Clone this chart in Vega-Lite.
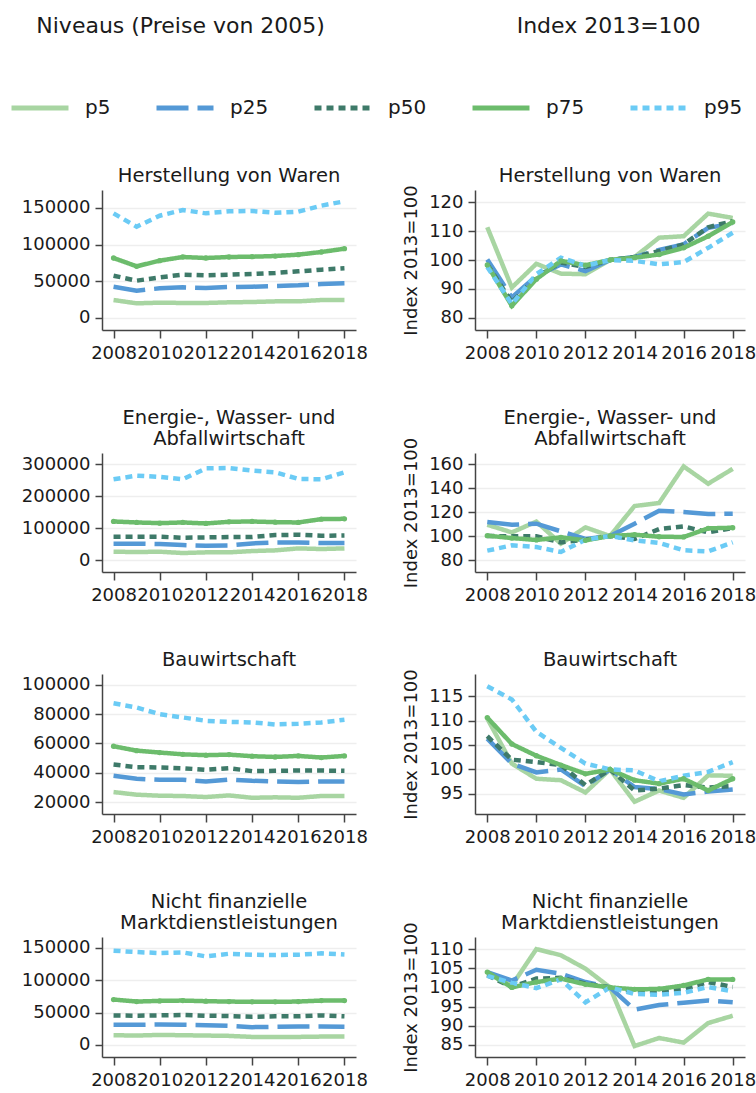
{
  "$schema": "https://vega.github.io/schema/vega-lite/v6.json",
  "padding": {"left": 9, "top": 14, "right": 0, "bottom": 0},
  "datasets": {
    "d": [
      {"s":"H","k":"l","year":2008,"p5":24500,"p25":42700,"p50":57700,"p75":81800,"p95":142700},
      {"s":"H","k":"l","year":2009,"p5":20000,"p25":37300,"p50":50900,"p75":70500,"p95":124500},
      {"s":"H","k":"l","year":2010,"p5":20900,"p25":40500,"p50":55400,"p75":78200,"p95":139500},
      {"s":"H","k":"l","year":2011,"p5":20500,"p25":41800,"p50":59100,"p75":83200,"p95":147300},
      {"s":"H","k":"l","year":2012,"p5":20500,"p25":40900,"p50":58200,"p75":81800,"p95":142700},
      {"s":"H","k":"l","year":2013,"p5":21400,"p25":42300,"p50":59100,"p75":83200,"p95":145400},
      {"s":"H","k":"l","year":2014,"p5":21800,"p25":42700,"p50":60000,"p75":83600,"p95":145900},
      {"s":"H","k":"l","year":2015,"p5":22700,"p25":43600,"p50":61400,"p75":84500,"p95":143600},
      {"s":"H","k":"l","year":2016,"p5":22700,"p25":44500,"p50":63600,"p75":86400,"p95":145000},
      {"s":"H","k":"l","year":2017,"p5":24500,"p25":46400,"p50":65900,"p75":90000,"p95":153200},
      {"s":"H","k":"l","year":2018,"p5":24500,"p25":47300,"p50":67700,"p75":94500,"p95":159100},
      {"s":"H","k":"i","year":2008,"p5":111.3,"p25":100.2,"p50":98.5,"p75":98.3,"p95":97.6},
      {"s":"H","k":"i","year":2009,"p5":90.5,"p25":87.1,"p50":85.4,"p75":84.2,"p95":84.8},
      {"s":"H","k":"i","year":2010,"p5":98.7,"p25":94.5,"p50":94.2,"p75":93.4,"p95":95.1},
      {"s":"H","k":"i","year":2011,"p5":95.3,"p25":98.5,"p50":99.1,"p75":99.7,"p95":100.8},
      {"s":"H","k":"i","year":2012,"p5":95.1,"p25":96.2,"p50":97.6,"p75":98.2,"p95":98.0},
      {"s":"H","k":"i","year":2013,"p5":100,"p25":100,"p50":100,"p75":100,"p95":100},
      {"s":"H","k":"i","year":2014,"p5":101.0,"p25":101.0,"p50":101.0,"p75":100.8,"p95":99.7},
      {"s":"H","k":"i","year":2015,"p5":107.7,"p25":103.5,"p50":103.1,"p75":101.9,"p95":98.5},
      {"s":"H","k":"i","year":2016,"p5":108.2,"p25":105.4,"p50":105.4,"p75":104.2,"p95":99.3},
      {"s":"H","k":"i","year":2017,"p5":116.0,"p25":111.1,"p50":111.3,"p75":108.2,"p95":104.2},
      {"s":"H","k":"i","year":2018,"p5":114.5,"p25":112.5,"p50":113.4,"p75":113.1,"p95":109.4},
      {"s":"E","k":"l","year":2008,"p5":25900,"p25":50900,"p50":72700,"p75":120400,"p95":252200},
      {"s":"E","k":"l","year":2009,"p5":24900,"p25":50900,"p50":72700,"p75":117300,"p95":263700},
      {"s":"E","k":"l","year":2010,"p5":25900,"p25":49800,"p50":72700,"p75":115200,"p95":259500},
      {"s":"E","k":"l","year":2011,"p5":21800,"p25":46700,"p50":69500,"p75":117300,"p95":252200},
      {"s":"E","k":"l","year":2012,"p5":23900,"p25":44600,"p50":70600,"p75":114200,"p95":286500},
      {"s":"E","k":"l","year":2013,"p5":23900,"p25":45700,"p50":71600,"p75":119400,"p95":287500},
      {"s":"E","k":"l","year":2014,"p5":28000,"p25":51900,"p50":71600,"p75":120400,"p95":279200},
      {"s":"E","k":"l","year":2015,"p5":30100,"p25":55000,"p50":77900,"p75":118300,"p95":274000},
      {"s":"E","k":"l","year":2016,"p5":36300,"p25":55000,"p50":78900,"p75":117300,"p95":253300},
      {"s":"E","k":"l","year":2017,"p5":34300,"p25":52900,"p50":75800,"p75":127700,"p95":252200},
      {"s":"E","k":"l","year":2018,"p5":36300,"p25":52900,"p50":76800,"p75":128700,"p95":274000},
      {"s":"E","k":"i","year":2008,"p5":109.4,"p25":111.7,"p50":100.0,"p75":100.3,"p95":87.8},
      {"s":"E","k":"i","year":2009,"p5":103.0,"p25":109.4,"p50":99.7,"p75":98.3,"p95":92.2},
      {"s":"E","k":"i","year":2010,"p5":112.0,"p25":110.3,"p50":99.7,"p75":96.7,"p95":90.8},
      {"s":"E","k":"i","year":2011,"p5":93.6,"p25":103.9,"p50":94.7,"p75":98.9,"p95":86.7},
      {"s":"E","k":"i","year":2012,"p5":107.2,"p25":97.5,"p50":96.9,"p75":96.4,"p95":96.9},
      {"s":"E","k":"i","year":2013,"p5":100,"p25":100,"p50":100,"p75":100,"p95":100},
      {"s":"E","k":"i","year":2014,"p5":125.0,"p25":110.3,"p50":97.5,"p75":101.1,"p95":96.4},
      {"s":"E","k":"i","year":2015,"p5":127.5,"p25":121.1,"p50":105.8,"p75":99.4,"p95":94.2},
      {"s":"E","k":"i","year":2016,"p5":158.0,"p25":120.0,"p50":108.0,"p75":99.2,"p95":88.1},
      {"s":"E","k":"i","year":2017,"p5":143.6,"p25":118.3,"p50":103.0,"p75":106.4,"p95":87.2},
      {"s":"E","k":"i","year":2018,"p5":156.0,"p25":118.6,"p50":106.7,"p75":106.9,"p95":94.7},
      {"s":"B","k":"l","year":2008,"p5":26800,"p25":37900,"p50":45600,"p75":58100,"p95":87500},
      {"s":"B","k":"l","year":2009,"p5":25000,"p25":35900,"p50":43800,"p75":55100,"p95":84600},
      {"s":"B","k":"l","year":2010,"p5":24300,"p25":35200,"p50":43600,"p75":53800,"p95":80000},
      {"s":"B","k":"l","year":2011,"p5":24100,"p25":35200,"p50":43100,"p75":52600,"p95":77800},
      {"s":"B","k":"l","year":2012,"p5":23400,"p25":34000,"p50":42000,"p75":52000,"p95":75500},
      {"s":"B","k":"l","year":2013,"p5":24500,"p25":35400,"p50":43100,"p75":52400,"p95":74800},
      {"s":"B","k":"l","year":2014,"p5":22900,"p25":34500,"p50":41100,"p75":51300,"p95":74400},
      {"s":"B","k":"l","year":2015,"p5":23200,"p25":34000,"p50":41300,"p75":50800,"p95":73000},
      {"s":"B","k":"l","year":2016,"p5":22900,"p25":33600,"p50":41500,"p75":51500,"p95":73500},
      {"s":"B","k":"l","year":2017,"p5":24100,"p25":34000,"p50":41500,"p75":50400,"p95":74400},
      {"s":"B","k":"l","year":2018,"p5":24100,"p25":34000,"p50":41300,"p75":51500,"p95":76200},
      {"s":"B","k":"i","year":2008,"p5":110.4,"p25":106.3,"p50":106.8,"p75":110.6,"p95":117.0},
      {"s":"B","k":"i","year":2009,"p5":101.2,"p25":101.2,"p50":102.0,"p75":105.2,"p95":114.3},
      {"s":"B","k":"i","year":2010,"p5":98.1,"p25":99.4,"p50":101.5,"p75":102.8,"p95":107.7},
      {"s":"B","k":"i","year":2011,"p5":97.8,"p25":100.0,"p50":100.9,"p75":100.9,"p95":104.4},
      {"s":"B","k":"i","year":2012,"p5":95.3,"p25":96.6,"p50":96.8,"p75":99.1,"p95":101.2},
      {"s":"B","k":"i","year":2013,"p5":100,"p25":100,"p50":100,"p75":100,"p95":100},
      {"s":"B","k":"i","year":2014,"p5":93.4,"p25":96.4,"p50":95.7,"p75":97.8,"p95":99.8},
      {"s":"B","k":"i","year":2015,"p5":95.7,"p25":96.0,"p50":96.1,"p75":97.1,"p95":97.6},
      {"s":"B","k":"i","year":2016,"p5":94.2,"p25":94.9,"p50":96.8,"p75":98.1,"p95":98.7},
      {"s":"B","k":"i","year":2017,"p5":98.8,"p25":95.5,"p50":96.3,"p75":95.7,"p95":99.5},
      {"s":"B","k":"i","year":2018,"p5":98.7,"p25":95.9,"p50":96.6,"p75":98.1,"p95":101.5},
      {"s":"N","k":"l","year":2008,"p5":15100,"p25":31200,"p50":45800,"p75":70300,"p95":145800},
      {"s":"N","k":"l","year":2009,"p5":14600,"p25":31200,"p50":45300,"p75":67200,"p95":143700},
      {"s":"N","k":"l","year":2010,"p5":15600,"p25":31800,"p50":45800,"p75":68200,"p95":142200},
      {"s":"N","k":"l","year":2011,"p5":15100,"p25":31200,"p50":46400,"p75":68700,"p95":143200},
      {"s":"N","k":"l","year":2012,"p5":14600,"p25":30700,"p50":45300,"p75":67700,"p95":137000},
      {"s":"N","k":"l","year":2013,"p5":14100,"p25":29700,"p50":44800,"p75":67200,"p95":141100},
      {"s":"N","k":"l","year":2014,"p5":12500,"p25":27600,"p50":43700,"p75":66700,"p95":139600},
      {"s":"N","k":"l","year":2015,"p5":12500,"p25":28100,"p50":44300,"p75":66700,"p95":139100},
      {"s":"N","k":"l","year":2016,"p5":12500,"p25":28600,"p50":44300,"p75":67200,"p95":139600},
      {"s":"N","k":"l","year":2017,"p5":13000,"p25":28600,"p50":45800,"p75":68700,"p95":141700},
      {"s":"N","k":"l","year":2018,"p5":13000,"p25":28100,"p50":44300,"p75":68700,"p95":140100},
      {"s":"N","k":"i","year":2008,"p5":103.6,"p25":104.0,"p50":103.2,"p75":104.0,"p95":103.0},
      {"s":"N","k":"i","year":2009,"p5":100.5,"p25":101.8,"p50":100.1,"p75":100.0,"p95":101.2},
      {"s":"N","k":"i","year":2010,"p5":110.0,"p25":104.6,"p50":102.3,"p75":101.4,"p95":99.8},
      {"s":"N","k":"i","year":2011,"p5":108.4,"p25":103.6,"p50":102.5,"p75":102.3,"p95":102.1},
      {"s":"N","k":"i","year":2012,"p5":104.9,"p25":101.4,"p50":101.0,"p75":100.8,"p95":96.1},
      {"s":"N","k":"i","year":2013,"p5":100,"p25":100,"p50":100,"p75":100,"p95":100},
      {"s":"N","k":"i","year":2014,"p5":84.7,"p25":94.2,"p50":99.0,"p75":99.5,"p95":98.3},
      {"s":"N","k":"i","year":2015,"p5":86.8,"p25":95.4,"p50":99.0,"p75":99.6,"p95":98.1},
      {"s":"N","k":"i","year":2016,"p5":85.6,"p25":96.0,"p50":99.6,"p75":100.5,"p95":98.6},
      {"s":"N","k":"i","year":2017,"p5":90.7,"p25":96.6,"p50":101.4,"p75":102.1,"p95":100.1},
      {"s":"N","k":"i","year":2018,"p5":92.6,"p25":96.1,"p50":100.1,"p75":102.1,"p95":99.0}
    ]
  },
  "spacing": 45,
  "resolve": {"scale": {"color": "shared", "strokeDash": "shared"}},
  "vconcat": [
    {
      "spacing": 34,
      "hconcat": [
        {
          "title": {"text": "Niveaus (Preise von 2005)", "fontSize": 22, "offset": 128, "anchor": "start", "dx": 15},
          "vconcat": [
            {
              "title": {"text": "Herstellung von Waren"},
              "width": 254, "height": 140,
              "data": {"name": "d"},
              "transform": [{"filter": "datum.s === 'H' && datum.k === 'l'"}, {"fold": ["p5","p25","p50","p75","p95"], "as": ["series","value"]}],
              "encoding": {
                "x": {"field": "year", "type": "quantitative", "scale": {"domain": [2007.5, 2018.5], "nice": false, "zero": false}, "axis": {"values": [2008,2010,2012,2014,2016,2018], "format": "d", "title": null}},
                "y": {"field": "value", "type": "quantitative", "scale": {"domain": [-16364, 174545], "nice": false, "zero": false}, "axis": {"values": [0,50000,100000,150000], "title": null}},
                "color": {"field": "series", "type": "nominal", "scale": {"domain": ["p5","p25","p50","p75","p95"], "range": ["#a8d5a2","#5499d6","#3e7a69","#6cbc6c","#6bcbf5"]}, "legend": {"title": null, "orient": "none", "legendX": -93, "legendY": -113, "direction": "horizontal"}}
              },
              "layer": [
                {"mark": {"type": "line", "strokeWidth": 4.5}, "encoding": {"strokeDash": {"field": "series", "type": "nominal", "scale": {"domain": ["p5","p25","p50","p75","p95"], "range": [[1,0],[32,9],[7,5],[1,0],[7,5]]}, "legend": {"title": null, "orient": "none", "legendX": -93, "legendY": -113, "direction": "horizontal"}}}},
                {"transform": [{"filter": "datum.series === 'p75'"}], "mark": {"type": "point", "filled": true, "size": 28, "opacity": 1}}
              ]
            }
          ]
        },
        {
          "title": {"text": "Index 2013=100", "fontSize": 22, "offset": 128, "anchor": "start", "dx": 114},
          "vconcat": [
            {
              "title": {"text": "Herstellung von Waren", "offset": -1.5},
              "width": 270, "height": 140,
              "data": {"name": "d"},
              "transform": [{"filter": "datum.s === 'H' && datum.k === 'i'"}, {"fold": ["p5","p25","p50","p75","p95"], "as": ["series","value"]}],
              "encoding": {
                "x": {"field": "year", "type": "quantitative", "scale": {"domain": [2007.5, 2018.5], "nice": false, "zero": false}, "axis": {"values": [2008,2010,2012,2014,2016,2018], "format": "d", "title": null}},
                "y": {"field": "value", "type": "quantitative", "scale": {"domain": [75.86, 124.14], "nice": false, "zero": false}, "axis": {"values": [80,90,100,110,120], "title": "Index 2013=100"}},
                "color": {"field": "series", "type": "nominal", "scale": {"domain": ["p5","p25","p50","p75","p95"], "range": ["#a8d5a2","#5499d6","#3e7a69","#6cbc6c","#6bcbf5"]}, "legend": {"title": null, "orient": "none", "legendX": -93, "legendY": -113, "direction": "horizontal"}}
              },
              "layer": [
                {"mark": {"type": "line", "strokeWidth": 4.5}, "encoding": {"strokeDash": {"field": "series", "type": "nominal", "scale": {"domain": ["p5","p25","p50","p75","p95"], "range": [[1,0],[32,9],[7,5],[1,0],[7,5]]}, "legend": {"title": null, "orient": "none", "legendX": -93, "legendY": -113, "direction": "horizontal"}}}},
                {"transform": [{"filter": "datum.series === 'p75'"}], "mark": {"type": "point", "filled": true, "size": 28, "opacity": 1}}
              ]
            }
          ]
        }
      ]
    },
    {
      "spacing": 34,
      "hconcat": [
        {
          "title": {"text": ["Energie-, Wasser- und", "Abfallwirtschaft"]},
          "width": 254, "height": 119,
          "data": {"name": "d"},
          "transform": [{"filter": "datum.s === 'E' && datum.k === 'l'"}, {"fold": ["p5","p25","p50","p75","p95"], "as": ["series","value"]}],
          "encoding": {
            "x": {"field": "year", "type": "quantitative", "scale": {"domain": [2007.5, 2018.5], "nice": false, "zero": false}, "axis": {"values": [2008,2010,2012,2014,2016,2018], "format": "d", "title": null}},
            "y": {"field": "value", "type": "quantitative", "scale": {"domain": [-37500, 334375], "nice": false, "zero": false}, "axis": {"values": [0,100000,200000,300000], "title": null}},
            "color": {"field": "series", "type": "nominal", "scale": {"domain": ["p5","p25","p50","p75","p95"], "range": ["#a8d5a2","#5499d6","#3e7a69","#6cbc6c","#6bcbf5"]}, "legend": {"title": null, "orient": "none", "legendX": -93, "legendY": -113, "direction": "horizontal"}}
          },
          "layer": [
            {"mark": {"type": "line", "strokeWidth": 4.5}, "encoding": {"strokeDash": {"field": "series", "type": "nominal", "scale": {"domain": ["p5","p25","p50","p75","p95"], "range": [[1,0],[32,9],[7,5],[1,0],[7,5]]}, "legend": {"title": null, "orient": "none", "legendX": -93, "legendY": -113, "direction": "horizontal"}}}},
            {"transform": [{"filter": "datum.series === 'p75'"}], "mark": {"type": "point", "filled": true, "size": 28, "opacity": 1}}
          ]
        },
        {
          "title": {"text": ["Energie-, Wasser- und", "Abfallwirtschaft"], "offset": -12},
          "width": 270, "height": 119,
          "data": {"name": "d"},
          "transform": [{"filter": "datum.s === 'E' && datum.k === 'i'"}, {"fold": ["p5","p25","p50","p75","p95"], "as": ["series","value"]}],
          "encoding": {
            "x": {"field": "year", "type": "quantitative", "scale": {"domain": [2007.5, 2018.5], "nice": false, "zero": false}, "axis": {"values": [2008,2010,2012,2014,2016,2018], "format": "d", "title": null}},
            "y": {"field": "value", "type": "quantitative", "scale": {"domain": [70, 169.2], "nice": false, "zero": false}, "axis": {"values": [80,100,120,140,160], "title": "Index 2013=100"}},
            "color": {"field": "series", "type": "nominal", "scale": {"domain": ["p5","p25","p50","p75","p95"], "range": ["#a8d5a2","#5499d6","#3e7a69","#6cbc6c","#6bcbf5"]}, "legend": {"title": null, "orient": "none", "legendX": -93, "legendY": -113, "direction": "horizontal"}}
          },
          "layer": [
            {"mark": {"type": "line", "strokeWidth": 4.5}, "encoding": {"strokeDash": {"field": "series", "type": "nominal", "scale": {"domain": ["p5","p25","p50","p75","p95"], "range": [[1,0],[32,9],[7,5],[1,0],[7,5]]}, "legend": {"title": null, "orient": "none", "legendX": -93, "legendY": -113, "direction": "horizontal"}}}},
            {"transform": [{"filter": "datum.series === 'p75'"}], "mark": {"type": "point", "filled": true, "size": 28, "opacity": 1}}
          ]
        }
      ]
    },
    {
      "spacing": 34,
      "hconcat": [
        {
          "title": {"text": "Bauwirtschaft"},
          "width": 254, "height": 140,
          "data": {"name": "d"},
          "transform": [{"filter": "datum.s === 'B' && datum.k === 'l'"}, {"fold": ["p5","p25","p50","p75","p95"], "as": ["series","value"]}],
          "encoding": {
            "x": {"field": "year", "type": "quantitative", "scale": {"domain": [2007.5, 2018.5], "nice": false, "zero": false}, "axis": {"values": [2008,2010,2012,2014,2016,2018], "format": "d", "title": null}},
            "y": {"field": "value", "type": "quantitative", "scale": {"domain": [11800, 107500], "nice": false, "zero": false}, "axis": {"values": [20000,40000,60000,80000,100000], "title": null}},
            "color": {"field": "series", "type": "nominal", "scale": {"domain": ["p5","p25","p50","p75","p95"], "range": ["#a8d5a2","#5499d6","#3e7a69","#6cbc6c","#6bcbf5"]}, "legend": {"title": null, "orient": "none", "legendX": -93, "legendY": -113, "direction": "horizontal"}}
          },
          "layer": [
            {"mark": {"type": "line", "strokeWidth": 4.5}, "encoding": {"strokeDash": {"field": "series", "type": "nominal", "scale": {"domain": ["p5","p25","p50","p75","p95"], "range": [[1,0],[32,9],[7,5],[1,0],[7,5]]}, "legend": {"title": null, "orient": "none", "legendX": -93, "legendY": -113, "direction": "horizontal"}}}},
            {"transform": [{"filter": "datum.series === 'p75'"}], "mark": {"type": "point", "filled": true, "size": 28, "opacity": 1}}
          ]
        },
        {
          "title": {"text": "Bauwirtschaft", "offset": -1.5},
          "width": 270, "height": 140,
          "data": {"name": "d"},
          "transform": [{"filter": "datum.s === 'B' && datum.k === 'i'"}, {"fold": ["p5","p25","p50","p75","p95"], "as": ["series","value"]}],
          "encoding": {
            "x": {"field": "year", "type": "quantitative", "scale": {"domain": [2007.5, 2018.5], "nice": false, "zero": false}, "axis": {"values": [2008,2010,2012,2014,2016,2018], "format": "d", "title": null}},
            "y": {"field": "value", "type": "quantitative", "scale": {"domain": [90.9, 119.5], "nice": false, "zero": false}, "axis": {"values": [95,100,105,110,115], "title": "Index 2013=100"}},
            "color": {"field": "series", "type": "nominal", "scale": {"domain": ["p5","p25","p50","p75","p95"], "range": ["#a8d5a2","#5499d6","#3e7a69","#6cbc6c","#6bcbf5"]}, "legend": {"title": null, "orient": "none", "legendX": -93, "legendY": -113, "direction": "horizontal"}}
          },
          "layer": [
            {"mark": {"type": "line", "strokeWidth": 4.5}, "encoding": {"strokeDash": {"field": "series", "type": "nominal", "scale": {"domain": ["p5","p25","p50","p75","p95"], "range": [[1,0],[32,9],[7,5],[1,0],[7,5]]}, "legend": {"title": null, "orient": "none", "legendX": -93, "legendY": -113, "direction": "horizontal"}}}},
            {"transform": [{"filter": "datum.series === 'p75'"}], "mark": {"type": "point", "filled": true, "size": 28, "opacity": 1}}
          ]
        }
      ]
    },
    {
      "spacing": 34,
      "hconcat": [
        {
          "title": {"text": ["Nicht finanzielle", "Marktdienstleistungen"]},
          "width": 254, "height": 120,
          "data": {"name": "d"},
          "transform": [{"filter": "datum.s === 'N' && datum.k === 'l'"}, {"fold": ["p5","p25","p50","p75","p95"], "as": ["series","value"]}],
          "encoding": {
            "x": {"field": "year", "type": "quantitative", "scale": {"domain": [2007.5, 2018.5], "nice": false, "zero": false}, "axis": {"values": [2008,2010,2012,2014,2016,2018], "format": "d", "title": null}},
            "y": {"field": "value", "type": "quantitative", "scale": {"domain": [-18557, 167000], "nice": false, "zero": false}, "axis": {"values": [0,50000,100000,150000], "title": null}},
            "color": {"field": "series", "type": "nominal", "scale": {"domain": ["p5","p25","p50","p75","p95"], "range": ["#a8d5a2","#5499d6","#3e7a69","#6cbc6c","#6bcbf5"]}, "legend": {"title": null, "orient": "none", "legendX": -93, "legendY": -113, "direction": "horizontal"}}
          },
          "layer": [
            {"mark": {"type": "line", "strokeWidth": 4.5}, "encoding": {"strokeDash": {"field": "series", "type": "nominal", "scale": {"domain": ["p5","p25","p50","p75","p95"], "range": [[1,0],[32,9],[7,5],[1,0],[7,5]]}, "legend": {"title": null, "orient": "none", "legendX": -93, "legendY": -113, "direction": "horizontal"}}}},
            {"transform": [{"filter": "datum.series === 'p75'"}], "mark": {"type": "point", "filled": true, "size": 28, "opacity": 1}}
          ]
        },
        {
          "title": {"text": ["Nicht finanzielle", "Marktdienstleistungen"], "offset": -11.5},
          "width": 270, "height": 120,
          "data": {"name": "d"},
          "transform": [{"filter": "datum.s === 'N' && datum.k === 'i'"}, {"fold": ["p5","p25","p50","p75","p95"], "as": ["series","value"]}],
          "encoding": {
            "x": {"field": "year", "type": "quantitative", "scale": {"domain": [2007.5, 2018.5], "nice": false, "zero": false}, "axis": {"values": [2008,2010,2012,2014,2016,2018], "format": "d", "title": null}},
            "y": {"field": "value", "type": "quantitative", "scale": {"domain": [81.84, 113.16], "nice": false, "zero": false}, "axis": {"values": [85,90,95,100,105,110], "title": "Index 2013=100"}},
            "color": {"field": "series", "type": "nominal", "scale": {"domain": ["p5","p25","p50","p75","p95"], "range": ["#a8d5a2","#5499d6","#3e7a69","#6cbc6c","#6bcbf5"]}, "legend": {"title": null, "orient": "none", "legendX": -93, "legendY": -113, "direction": "horizontal"}}
          },
          "layer": [
            {"mark": {"type": "line", "strokeWidth": 4.5}, "encoding": {"strokeDash": {"field": "series", "type": "nominal", "scale": {"domain": ["p5","p25","p50","p75","p95"], "range": [[1,0],[32,9],[7,5],[1,0],[7,5]]}, "legend": {"title": null, "orient": "none", "legendX": -93, "legendY": -113, "direction": "horizontal"}}}},
            {"transform": [{"filter": "datum.series === 'p75'"}], "mark": {"type": "point", "filled": true, "size": 28, "opacity": 1}}
          ]
        }
      ]
    }
  ],
  "config": {
    "font": "DejaVu Sans",
    "background": "white",
    "view": {"stroke": null},
    "axis": {
      "labelFont": "DejaVu Sans", "labelFontSize": 18, "labelColor": "#1a1a1a",
      "titleFont": "DejaVu Sans", "titleFontSize": 18, "titleFontWeight": "normal", "titleColor": "#1a1a1a", "titlePadding": 8,
      "domainColor": "#444444", "domainWidth": 1.5, "tickColor": "#444444", "tickWidth": 1.5, "tickSize": 7,
      "gridColor": "#eeeeee", "gridWidth": 1.5, "labelPadding": 5
    },
    "axisX": {"grid": false, "tickSize": 8, "labelOverlap": false, "labelFlush": false, "labelPadding": 6},
    "axisY": {"grid": true, "format": "d", "labelOverlap": false, "labelFlush": false},
    "title": {"font": "DejaVu Sans", "fontSize": 19.5, "fontWeight": "normal", "color": "#1a1a1a", "offset": 4, "lineHeight": 21},
    "legend": {
      "symbolType": "stroke", "symbolSize": 3249, "symbolStrokeWidth": 5,
      "labelFont": "DejaVu Sans", "labelFontSize": 20, "labelColor": "#1a1a1a", "labelOffset": 14,
      "columnPadding": 35, "labelLimit": 200
    }
  }
}
